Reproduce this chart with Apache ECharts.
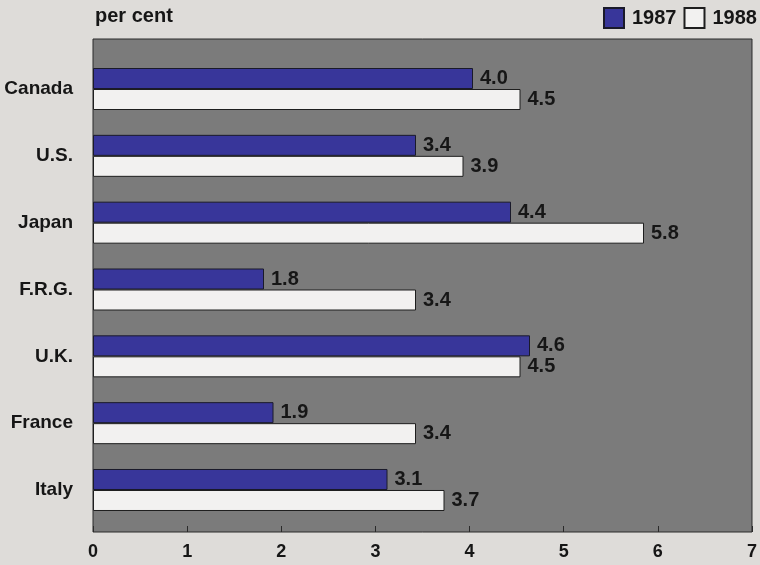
<!DOCTYPE html>
<html>
<head>
<meta charset="utf-8">
<script src="https://cdn.jsdelivr.net/npm/echarts@6/dist/echarts.min.js"></script>
<style>
html,body{margin:0;padding:0;background:#dedcd9;overflow:hidden;}
#chart{width:760px;height:565px;}
</style>
</head>
<body>
<div id="chart"></div>
<script>
const categories = ['Canada', 'U.S.', 'Japan', 'F.R.G.', 'U.K.', 'France', 'Italy'];
const values1987 = [4.0, 3.4, 4.4, 1.8, 4.6, 1.9, 3.1];
const values1988 = [4.5, 3.9, 5.8, 3.4, 4.5, 3.4, 3.7];
const seriesNames = ['1987', '1988'];
const xTicks = [0, 1, 2, 3, 4, 5, 6, 7];

const FONT = 'Liberation Sans, Arial, Helvetica, sans-serif';
const INK = '#161616';
const chart = echarts.init(document.getElementById('chart'));

const labelStyle = {
  show: true,
  position: 'right',
  distance: 7,
  fontFamily: FONT,
  fontWeight: 'bold',
  fontSize: 20,
  color: INK,
  formatter: p => p.value.toFixed(1)
};

chart.setOption({
  backgroundColor: '#dedcd9',
  animation: false,
  title: {
    text: 'per cent',
    left: 90, top: 1,
    textStyle: {fontFamily: FONT, fontWeight: 'bold', fontSize: 20, color: INK}
  },
  legend: {
    data: seriesNames,
    left: 603, top: 7,
    padding: 0,
    width: 200,
    icon: 'rect',
    itemWidth: 20, itemHeight: 20, itemGap: 7,
    textStyle: {fontFamily: FONT, fontWeight: 'bold', fontSize: 20, color: INK, padding: [0, 0, 0, 3]}
  },
  grid: [
    {left: 93, right: 2, top: 39, bottom: 33, show: true, backgroundColor: '#7b7b7b', borderColor: '#2a2a2a', borderWidth: 1},
    {left: 93, right: 2, top: 55.6, bottom: 41.6}
  ],
  xAxis: [
    {
      gridIndex: 0, type: 'value', min: xTicks[0], max: xTicks[xTicks.length - 1], interval: 1,
      axisLine: {show: false},
      axisTick: {show: true, inside: true, length: 6, lineStyle: {color: '#2a2a2a'}},
      splitLine: {show: false},
      axisLabel: {margin: 11, fontFamily: FONT, fontWeight: 'bold', fontSize: 18, color: INK}
    },
    {
      gridIndex: 1, type: 'value', min: xTicks[0], max: xTicks[xTicks.length - 1], show: false
    }
  ],
  yAxis: [
    {gridIndex: 0, type: 'value', show: false},
    {
      gridIndex: 1, type: 'category', data: categories, inverse: true,
      axisLine: {show: false}, axisTick: {show: false},
      axisLabel: {margin: 20, fontFamily: FONT, fontWeight: 'bold', fontSize: 19, color: INK}
    }
  ],
  series: [
    {
      name: seriesNames[0], type: 'bar', xAxisIndex: 1, yAxisIndex: 1,
      data: values1987, barWidth: 21, barGap: '0%',
      itemStyle: {color: '#38369a', borderColor: '#1a1a2a', borderWidth: 1},
      label: labelStyle
    },
    {
      name: seriesNames[1], type: 'bar', xAxisIndex: 1, yAxisIndex: 1,
      data: values1988, barWidth: 21, barGap: '0%',
      itemStyle: {color: '#f2f1f0', borderColor: '#1e1e1e', borderWidth: 1},
      label: labelStyle
    }
  ]
});
</script>
</body>
</html>
